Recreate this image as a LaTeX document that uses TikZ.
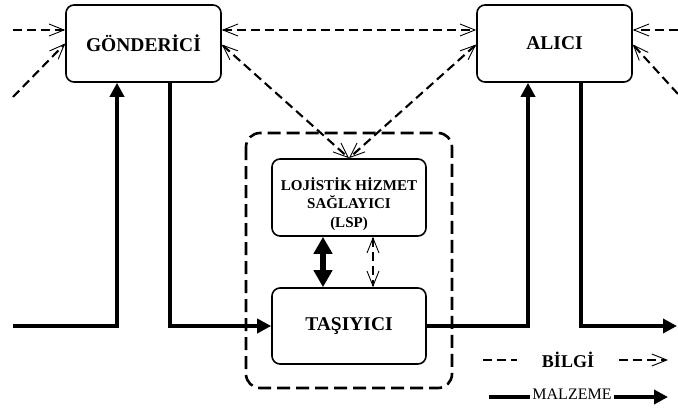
\documentclass[tikz,border=0pt]{standalone}
\usepackage{fontspec}
\setmainfont{Liberation Serif}
\usetikzlibrary{arrows.meta}

\begin{document}
\begin{tikzpicture}[x=1pt, y=-1pt,
  box/.style={draw, line width=1.6pt, rounded corners=8pt, align=center,
              font=\fontsize{19.5}{20}\selectfont\bfseries,
              minimum width=155pt, minimum height=77pt, inner sep=2pt},
  mat/.style={line width=4pt, -{Triangle[length=14pt,width=14pt]}},
  matline/.style={line width=4pt},
  info/.style={line width=2.1pt, dash pattern=on 9pt off 5pt,
               -{Straight Barb[length=15pt,width=12pt,line width=0.9pt]}},
  infoboth/.style={info, {Straight Barb[length=15pt,width=12pt,line width=0.9pt]}-{Straight Barb[length=15pt,width=12pt,line width=0.9pt]}},
  infoline/.style={line width=2.1pt, dash pattern=on 9pt off 5pt}]
\useasboundingbox (0,0) rectangle (678,412);

% group of LSP and carrier
\draw[line width=2.6pt, dash pattern=on 13pt off 6pt, rounded corners=14pt]
  (246,133) rectangle (452,388);

\node[box] (gon) at (143.5,43.5) {GÖNDERİCİ};
\node[box] (ali) at (554.5,43.5) {ALICI};
\node[box, minimum width=154pt, font=\fontsize{15}{18.5}\selectfont\bfseries]
  (lsp) at (349,197.5) {\rule{0pt}{26pt}LOJİSTİK HİZMET\\SAĞLAYICI\\(LSP)};
\node[box, minimum width=154pt, minimum height=76pt] (tas) at (349,326) {TAŞIYICI};

\coordinate (inL1) at (13,30);
\coordinate (inL2) at (13,97);
\coordinate (inR1) at (678,30);
\coordinate (inR2) at (678,94);
\coordinate (matL) at (13,326);
\coordinate (matR) at (677,326);

% information flow
\draw[info] (inL1) -- ([yshift=13.5pt]gon.west);
\draw[info] (inL2) -- (gon.west);
\draw[info] (inR1) -- ([yshift=13.5pt]ali.east);
\draw[info] (inR2) -- ([yshift=-1pt]ali.east);
\draw[infoboth] ([yshift=13.5pt]gon.east) -- ([yshift=13.5pt]ali.west);
\draw[infoboth] ([yshift=-1pt]gon.east) -- (lsp.north);
\draw[infoboth] ([yshift=-1pt]ali.west) -- (lsp.north);
\draw[infoboth, line width=1.5pt] ([xshift=24pt]lsp.south) -- ([xshift=24pt]tas.north);

% material flow
\draw[mat] (matL) -| ([xshift=-26.5pt]gon.south);
\draw[mat] ([xshift=26.5pt]gon.south) |- (tas.west);
\draw[mat] (tas.east) -| ([xshift=-26.5pt]ali.south);
\draw[mat] ([xshift=26.5pt]ali.south) |- (matR);
\draw[line width=5.5pt, {Triangle[length=17pt,width=18pt]}-{Triangle[length=17pt,width=18pt]}]
  ([xshift=-26pt]lsp.south) -- ([xshift=-26pt]tas.north);

% legend
\node[font=\fontsize{18}{20}\selectfont\bfseries, inner xsep=25pt] (bilgi) at (568,360) {BİLGİ};
\coordinate (bA) at (483,360);
\coordinate (bB) at (668,360);
\draw[infoline] (bA) -- (bilgi);
\draw[info] (bilgi) -- (bB);
\node[font=\fontsize{16}{17}\selectfont, inner xsep=2pt] (malz) at (572,394) {MALZEME};
\coordinate (mA) at (489,397);
\coordinate (mB) at (668,397);
\draw[matline] (mA) -- (mA -| malz.west);
\draw[mat] (malz.east |- mB) -- (mB);
\end{tikzpicture}
\end{document}
